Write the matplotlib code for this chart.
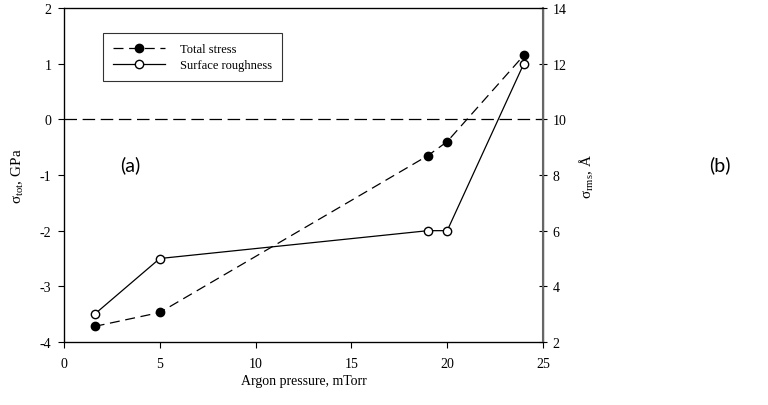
import numpy as np
import matplotlib
matplotlib.use("Agg")
import matplotlib.pyplot as plt

plt.rcParams['font.family'] = ['Liberation Serif', 'DejaVu Serif']
plt.rcParams['mathtext.fontset'] = 'custom'
plt.rcParams['mathtext.rm'] = 'Liberation Serif'
plt.rcParams['mathtext.it'] = 'Liberation Serif:italic'

## Data
pressure = [1.6, 5, 19, 20, 24]            # Argon pressure (mTorr)
total_stress = [-3.72, -3.47, -0.65, -0.4, 1.15]   # GPa
roughness = [3.0, 5.0, 6.0, 6.0, 12.0]      # Angstrom

x_ticks = [0, 5, 10, 15, 20, 25]
left_ticks = [-4, -3, -2, -1, 0, 1, 2]
right_ticks = [2, 4, 6, 8, 10, 12, 14]

fig = plt.figure(figsize=(7.68, 4.06), dpi=100)
ax = fig.add_axes([64/768, 1-343/406, (543-64)/768, (343-9)/406])
ax2 = ax.twinx()

ax.axhline(0, color='black', lw=0.9, ls=(0, (10, 4.5)))
l1, = ax.plot(pressure, total_stress, color='black', lw=0.9, ls=(0, (8, 4.5)),
              marker='o', ms=6, mfc='black', mec='black', label='Total stress')
l2, = ax2.plot(pressure, roughness, color='black', lw=0.9, ls='-',
               marker='o', ms=6, mfc='white', mec='black', label='Surface roughness')

ax.set_xlim(0, 25)
ax.set_ylim(-4, 2)
ax2.set_ylim(2, 14)
ax.set_xticks(x_ticks)
ax.set_yticks(left_ticks)
ax2.set_yticks(right_ticks)
ax.set_yticklabels([str(t) for t in left_ticks])

for a in (ax, ax2):
    a.tick_params(labelsize=10, length=4, width=0.8)
ax.tick_params(direction='out')
ax.tick_params(axis='x', pad=7)
ax.tick_params(axis='y', pad=5)
ax2.tick_params(direction='inout', length=6, pad=4)
for s in ax.spines.values():
    s.set_linewidth(0.9)
ax2.spines['right'].set_color('#666666')
ax2.spines['right'].set_linewidth(1.5)

ax.set_xlabel('Argon pressure, mTorr', fontsize=10, labelpad=3)
ax.set_ylabel('σ$_{\\mathrm{tot}}$, GPa', fontsize=11, labelpad=10)
ax2.set_ylabel('σ$_{\\mathrm{rms}}$, Å', fontsize=11, labelpad=8)

leg = ax.legend(handles=[l1, l2], loc='upper left', bbox_to_anchor=(0.081, 0.925),
                borderaxespad=0, fontsize=9, frameon=True, fancybox=False,
                edgecolor='black', handlelength=4.2, borderpad=0.8,
                labelspacing=0.35, handletextpad=1.2)
leg.get_frame().set_linewidth(0.8)

fig.text(130/768, 1-165/406, '(a)', fontsize=14, family='Lato', ha='center', va='center')
fig.text(720/768, 1-165/406, '(b)', fontsize=14, family='Lato', ha='center', va='center')

fig.savefig('out.png', dpi=100)
